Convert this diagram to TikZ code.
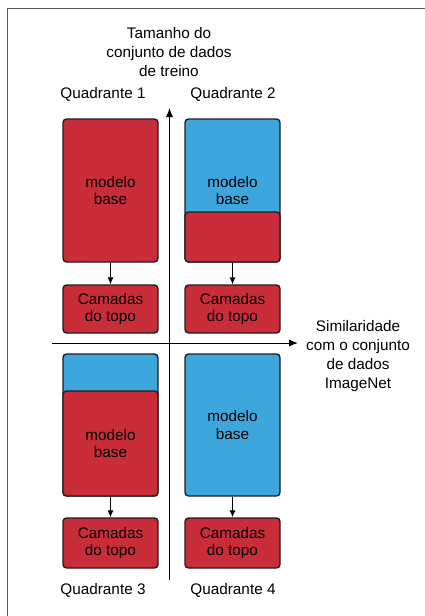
\documentclass[tikz,border=0pt]{standalone}
\usepackage{fontspec}
\setmainfont{Liberation Sans}
\usetikzlibrary{arrows.meta}
\definecolor{boxred}{RGB}{200,45,57}
\definecolor{boxblue}{RGB}{60,166,221}
\definecolor{edge}{RGB}{30,30,30}
\begin{document}
\begin{tikzpicture}[x=1pt,y=-1pt,
  box/.style={draw=edge,line width=1.4pt,rounded corners=3.5pt,inner sep=0pt,
    align=center,font=\fontsize{15.3}{17.5}\selectfont,text=black},
  redbox/.style={box,fill=boxred},
  bluebox/.style={box,fill=boxblue},
  lbl/.style={align=center,font=\fontsize{15.3}{19}\selectfont,inner sep=0pt},
  conn/.style={line width=1pt,-{Latex[length=7pt,width=6pt]}},
  axis/.style={line width=1pt,-{Latex[length=9pt,width=7pt]}}]
\useasboundingbox (0,0) rectangle (425,616);
\draw[line width=1.5pt,draw=black!65] (7.5,616) -- (7.5,8.5) -- (425,8.5);
% axes
\coordinate (vtop) at (169.5,108);
\coordinate (vbot) at (169.5,580);
\coordinate (hl) at (52,343);
\coordinate (hr) at (298,343);
\draw[axis] (vbot) -- (vtop);
\draw[axis] (hl) -- (hr);
\node[lbl] (ttl) at (169,52) {Tamanho do\\conjunto de dados\\de treino};
\node[lbl] (sim) at (358,356.5) {Similaridade\\com o conjunto\\de dados\\ImageNet};
\node[lbl] (qa) at (103,94) {Quadrante 1};
\node[lbl] (qb) at (233,94) {Quadrante 2};
\node[lbl] (qc) at (103,590) {Quadrante 3};
\node[lbl] (qd) at (233,590) {Quadrante 4};
% Q1
\node[redbox,minimum width=95pt,minimum height=143pt] (b1) at (110.5,190.5) {modelo\\base};
\node[redbox,minimum width=95pt,minimum height=48pt] (t1) at (110.5,309) {Camadas\\do topo};
\draw[conn] (b1) -- (t1);
% Q2
\node[bluebox,minimum width=95pt,minimum height=143pt] (b2) at (232.5,190.5) {modelo\\base};
\node[redbox,minimum width=95pt,minimum height=50pt] (r2) at (232.5,237) {};
\node[redbox,minimum width=95pt,minimum height=48pt] (t2) at (232.5,309) {Camadas\\do topo};
\draw[conn] (r2) -- (t2);
% Q3
\node[bluebox,minimum width=95pt,minimum height=142pt] (u3) at (110.5,425) {};
\node[redbox,minimum width=95pt,minimum height=105pt] (b3) at (110.5,443.5) {modelo\\base};
\node[redbox,minimum width=95pt,minimum height=50pt] (t3) at (110.5,543) {Camadas\\do topo};
\draw[conn] (b3) -- (t3);
% Q4
\node[bluebox,minimum width=95pt,minimum height=142pt] (b4) at (232.5,425) {modelo\\base};
\node[redbox,minimum width=95pt,minimum height=50pt] (t4) at (232.5,543) {Camadas\\do topo};
\draw[conn] (b4) -- (t4);
\end{tikzpicture}
\end{document}
